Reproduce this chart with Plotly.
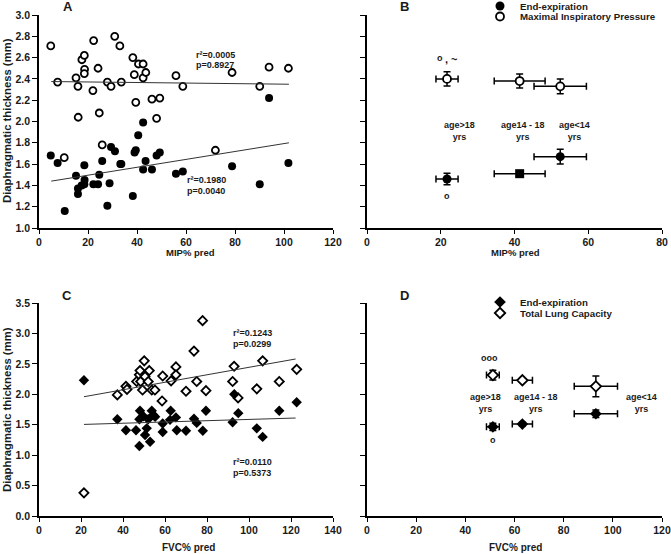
import plotly.graph_objects as go

# ---------------- DATA ----------------
# Panel A: MIP% pred vs diaphragmatic thickness
A_open_x = [4.8, 7.6, 10.3, 15.1, 15.9, 16.0, 17.5, 18.5, 18.6, 18.5, 22.0, 22.3, 24.1, 24.6, 25.8,
            27.9, 29.4, 30.9, 33.0, 33.6, 38.3, 38.9, 39.5, 40.6, 42.5, 42.5, 43.6, 46.1, 48.0, 49.3,
            55.9, 58.7, 72.0, 78.8, 90.1, 93.9, 101.8]
A_open_y = [2.71, 2.37, 1.66, 2.41, 2.33, 2.04, 2.58, 2.62, 2.49, 2.45, 2.29, 2.76, 2.50, 2.08, 1.78,
            2.37, 2.33, 2.80, 2.71, 2.37, 2.60, 2.44, 2.18, 2.54, 2.54, 2.41, 2.46, 2.21, 2.03, 2.22,
            2.43, 2.33, 1.73, 2.46, 2.33, 2.51, 2.50]
A_fill_x = [4.8, 7.6, 10.5, 15.1, 15.9, 15.9, 17.4, 18.5, 18.6, 18.5, 22.2, 24.1, 24.6, 25.8, 27.9,
            28.8, 29.4, 31.0, 33.2, 33.6, 38.3, 39.0, 39.5, 40.5, 42.5, 42.5, 43.5, 46.1, 48.0, 49.3,
            55.9, 58.7, 78.8, 90.1, 93.9, 101.8]
A_fill_y = [1.68, 1.61, 1.16, 1.49, 1.37, 1.32, 1.40, 1.59, 1.45, 1.41, 1.41, 1.41, 1.50, 1.63, 1.21,
            1.42, 1.76, 1.72, 1.60, 1.60, 1.30, 1.71, 1.73, 1.87, 1.99, 1.55, 1.63, 1.55, 1.68, 1.71,
            1.51, 1.53, 1.58, 1.41, 2.22, 1.61]
A_fit_open_x = [5, 102]
A_fit_open_y = [2.375, 2.35]
A_fit_fill_x = [5, 102]
A_fit_fill_y = [1.44, 1.80]

# Panel B: group means (MIP% pred)
B_groups = ["age>18<br>yrs", "age14 - 18<br>yrs", "age<14<br>yrs"]
B_x = [21.7, 41.4, 52.4]
B_xerr = [3.0, 6.9, 7.1]
B_open_y = [2.40, 2.38, 2.33]
B_open_yerr = [0.067, 0.066, 0.07]
B_fill_y = [1.46, 1.51, 1.67]
B_fill_yerr = [0.055, 0.015, 0.07]
B_label_x = [25.0, 42.2, 56.4]
B_label_y = [1.91, 1.91, 1.91]

# Panel C: FVC% pred vs diaphragmatic thickness
C_open_x = [21.4, 37.3, 41.4, 41.9, 46.5, 47.8, 48.1, 48.4, 49.3, 50.1, 50.5, 52.0, 52.5, 53.7, 55.2,
            58.6, 58.9, 62.9, 65.2, 65.2, 70.0, 73.8, 75.1, 77.9, 79.5, 92.2, 92.9, 94.8, 103.7, 106.5,
            114.4, 122.7]
C_open_y = [0.38, 1.99, 2.13, 2.08, 2.21, 2.32, 2.39, 2.21, 2.07, 2.55, 2.29, 2.21, 2.39, 2.07, 2.07,
            1.89, 2.30, 2.22, 2.45, 2.32, 2.05, 2.71, 2.21, 3.21, 2.06, 2.21, 2.46, 1.94, 2.09, 2.55,
            2.21, 2.41]
C_fill_x = [21.4, 37.3, 41.4, 46.2, 47.8, 47.8, 48.1, 49.7, 50.5, 51.3, 52.0, 52.9, 53.7, 54.4, 55.3,
            58.9, 58.9, 62.4, 62.7, 65.2, 65.6, 70.0, 73.8, 75.1, 78.0, 79.5, 92.2, 93.0, 94.9, 103.7,
            106.5, 114.4, 122.7]
C_fill_y = [2.23, 1.59, 1.41, 1.41, 1.15, 1.59, 1.73, 1.64, 1.33, 1.44, 1.59, 1.22, 1.73, 1.66, 1.63,
            1.52, 1.38, 1.58, 1.73, 1.62, 1.41, 1.40, 1.60, 1.53, 1.40, 1.73, 1.54, 2.00, 1.69, 1.44,
            1.30, 1.73, 1.87]
C_fit_open_x = [21.4, 122.2]
C_fit_open_y = [1.96, 2.58]
C_fit_fill_x = [21.4, 122.2]
C_fit_fill_y = [1.505, 1.61]

# Panel D: group means (FVC% pred)
D_x = [51.2, 63.2, 93.1]
D_xerr = [2.6, 4.1, 8.8]
D_open_y = [2.315, 2.23, 2.13]
D_open_yerr = [0.08, 0.03, 0.17]
D_fill_y = [1.465, 1.51, 1.68]
D_fill_yerr = [0.06, 0.03, 0.06]
D_label_x = [48.3, 68.6, 111.8]
D_label_y = [1.86, 1.86, 1.86]

A_ticks = [0, 20, 40, 60, 80, 100, 120]
B_ticks = [0, 20, 40, 60, 80]
C_ticks = [0, 20, 40, 60, 80, 100, 120, 140]
D_ticks = [0, 20, 40, 60, 80, 100, 120]

# ---------------- FIGURE ----------------
W, H = 671, 554
FONT = "Liberation Sans, Arial, sans-serif"
INK = "#1a1a1a"

def px_x(a, b):
    return [a / W, b / W]

def px_y(top, bottom):
    return [(H - bottom) / H, (H - top) / H]

fig = go.Figure()

BLACK = "#000000"
open_marker = dict(color="white", size=7, line=dict(color=BLACK, width=1.8))
fill_marker = dict(color=BLACK, size=8, line=dict(color=BLACK, width=0))

# Panel A
fig.add_trace(go.Scatter(x=A_open_x, y=A_open_y, mode="markers", marker=dict(symbol="circle", **open_marker),
                         xaxis="x", yaxis="y", showlegend=False, cliponaxis=False))
fig.add_trace(go.Scatter(x=A_fill_x, y=A_fill_y, mode="markers", marker=dict(symbol="circle", **fill_marker),
                         xaxis="x", yaxis="y", showlegend=False, cliponaxis=False))
fig.add_trace(go.Scatter(x=A_fit_open_x, y=A_fit_open_y, mode="lines", line=dict(color="#333", width=1),
                         xaxis="x", yaxis="y", showlegend=False))
fig.add_trace(go.Scatter(x=A_fit_fill_x, y=A_fit_fill_y, mode="lines", line=dict(color="#333", width=1),
                         xaxis="x", yaxis="y", showlegend=False))

# Panel B
eb = dict(color=BLACK, thickness=1.5, width=3.5)
fig.add_trace(go.Scatter(x=B_x, y=B_fill_y, mode="markers",
                         marker=dict(symbol=["circle", "square", "circle"], color=BLACK, size=9),
                         error_x=dict(type="data", array=B_xerr, **eb),
                         error_y=dict(type="data", array=B_fill_yerr, **eb),
                         xaxis="x2", yaxis="y2", name="End-expiration", legend="legend"))
fig.add_trace(go.Scatter(x=B_x, y=B_open_y, mode="markers",
                         marker=dict(symbol="circle", color="white", size=8, line=dict(color=BLACK, width=1.8)),
                         error_x=dict(type="data", array=B_xerr, **eb),
                         error_y=dict(type="data", array=B_open_yerr, **eb),
                         xaxis="x2", yaxis="y2", name="Maximal Inspiratory Pressure", legend="legend2"))

# Panel C
fig.add_trace(go.Scatter(x=C_open_x, y=C_open_y, mode="markers", marker=dict(symbol="diamond", **open_marker),
                         xaxis="x3", yaxis="y3", showlegend=False, cliponaxis=False))
fig.add_trace(go.Scatter(x=C_fill_x, y=C_fill_y, mode="markers", marker=dict(symbol="diamond", **fill_marker),
                         xaxis="x3", yaxis="y3", showlegend=False, cliponaxis=False))
fig.add_trace(go.Scatter(x=C_fit_open_x, y=C_fit_open_y, mode="lines", line=dict(color="#333", width=1),
                         xaxis="x3", yaxis="y3", showlegend=False))
fig.add_trace(go.Scatter(x=C_fit_fill_x, y=C_fit_fill_y, mode="lines", line=dict(color="#333", width=1),
                         xaxis="x3", yaxis="y3", showlegend=False))

# Panel D
fig.add_trace(go.Scatter(x=D_x, y=D_fill_y, mode="markers",
                         marker=dict(symbol="diamond", color=BLACK, size=9),
                         error_x=dict(type="data", array=D_xerr, **eb),
                         error_y=dict(type="data", array=D_fill_yerr, **eb),
                         xaxis="x4", yaxis="y4", name="End-expiration", legend="legend3"))
fig.add_trace(go.Scatter(x=D_x, y=D_open_y, mode="markers",
                         marker=dict(symbol="diamond", color="white", size=8, line=dict(color=BLACK, width=1.8)),
                         error_x=dict(type="data", array=D_xerr, **eb),
                         error_y=dict(type="data", array=D_open_yerr, **eb),
                         xaxis="x4", yaxis="y4", name="Total Lung Capacity", legend="legend4"))

tickfont = dict(family=FONT, size=10.5, color=INK, weight="bold")
axis_common = dict(showgrid=False, zeroline=False, showline=True, linecolor=BLACK, linewidth=1.5,
                   ticks="outside", tickwidth=1.2, tickcolor=BLACK, tickfont=tickfont,
                   automargin=False, fixedrange=True)
xax = dict(ticklen=4, **axis_common)
yax = dict(ticklen=5, **axis_common)

def leg(ypx):
    return dict(x=480 / W, y=(H - ypx) / H, xanchor="left", yanchor="middle", bgcolor="rgba(0,0,0,0)",
                borderwidth=0, font=dict(family=FONT, size=9.7, color=INK, weight="bold"))

fig.update_layout(
    width=W, height=H, margin=dict(l=0, r=0, t=0, b=0, autoexpand=False),
    paper_bgcolor="white", plot_bgcolor="white",
    font=dict(family=FONT, color=INK),
    xaxis=dict(domain=px_x(39, 333), range=[0, 120], tickvals=A_ticks, anchor="y", **xax),
    yaxis=dict(domain=px_y(15, 228), range=[1.0, 3.0], dtick=0.2, tickformat=".1f", anchor="x", **yax),
    xaxis2=dict(domain=px_x(367, 662), range=[0, 80], tickvals=B_ticks, anchor="y2", **xax),
    yaxis2=dict(domain=px_y(15, 228), range=[1.0, 3.0], dtick=0.2, showticklabels=False, anchor="x2", **yax),
    xaxis3=dict(domain=px_x(39, 333), range=[0, 140], tickvals=C_ticks, anchor="y3", **xax),
    yaxis3=dict(domain=px_y(303, 516), range=[0.0, 3.5], dtick=0.5, tickformat=".1f", anchor="x3", **yax),
    xaxis4=dict(domain=px_x(367, 662), range=[0, 120], tickvals=D_ticks, anchor="y4", **xax),
    yaxis4=dict(domain=px_y(303, 516), range=[0.0, 3.5], dtick=0.5, showticklabels=False, anchor="x4", **yax),
    legend=leg(6), legend2=leg(16.5), legend3=leg(302), legend4=leg(313),
)

ann = []
def pa(text, x, y, size=11, **kw):
    ann.append(dict(text=text, x=x / W, y=(H - y) / H, xref="paper", yref="paper", showarrow=False,
                    xanchor="center", yanchor="middle",
                    font=dict(family=FONT, size=size, color=INK, weight="bold"), **kw))

# Panel letters
pa("A", 68, 7, size=13)
pa("B", 405, 7, size=13)
pa("C", 67, 295, size=13)
pa("D", 405, 295, size=13)
# Axis titles
pa("MIP% pred", 190, 252, size=9.5)
pa("MIP% pred", 515, 252, size=9.5)
pa("FVC% pred", 188, 547, size=10)
pa("FVC% pred", 515, 547, size=10)
pa("Diaphragmatic thickness (mm)", 7, 121, size=11.3, textangle=-90)
pa("Diaphragmatic thickness (mm)", 7, 410, size=11.3, textangle=-90)

def da(text, x, y, xr, yr, size=9, xanchor="center", **kw):
    ann.append(dict(text=text, x=x, y=y, xref=xr, yref=yr, showarrow=False,
                    xanchor=xanchor, yanchor="middle",
                    font=dict(family=FONT, size=size, color=INK, weight="bold"), **kw))

# Regression stats (one annotation per line)
da("r²=0.0005", 63.3, 2.624, "x", "y", xanchor="left")
da("p=0.8927", 63.3, 2.526, "x", "y", xanchor="left")
da("r²=0.1980", 59.6, 1.451, "x", "y", xanchor="left")
da("p=0.0040", 59.6, 1.347, "x", "y", xanchor="left")
da("r²=0.1243", 91.4, 3.005, "x3", "y3", xanchor="left")
da("p=0.0299", 91.4, 2.829, "x3", "y3", xanchor="left")
da("r²=0.0110", 91.4, 0.89, "x3", "y3", xanchor="left")
da("p=0.5373", 91.4, 0.709, "x3", "y3", xanchor="left")

# Group labels
for t, x, y in zip(B_groups, B_label_x, B_label_y):
    da(t, x, y, "x2", "y2", size=9)
for t, x, y in zip(B_groups, D_label_x, D_label_y):
    da(t, x, y, "x4", "y4", size=9)

# Significance marks
da("o", 19.8, 2.60, "x2", "y2", size=9)
da(", ~", 22.8, 2.585, "x2", "y2", size=11)
da("o", 21.8, 1.30, "x2", "y2", size=9)
da("ooo", 50.0, 2.60, "x4", "y4", size=9)
da("o", 51.3, 1.25, "x4", "y4", size=9)

fig.update_layout(annotations=ann)

fig.write_html("out.html", config={"displayModeBar": False},
               post_script="document.body.style.margin='0px';")
